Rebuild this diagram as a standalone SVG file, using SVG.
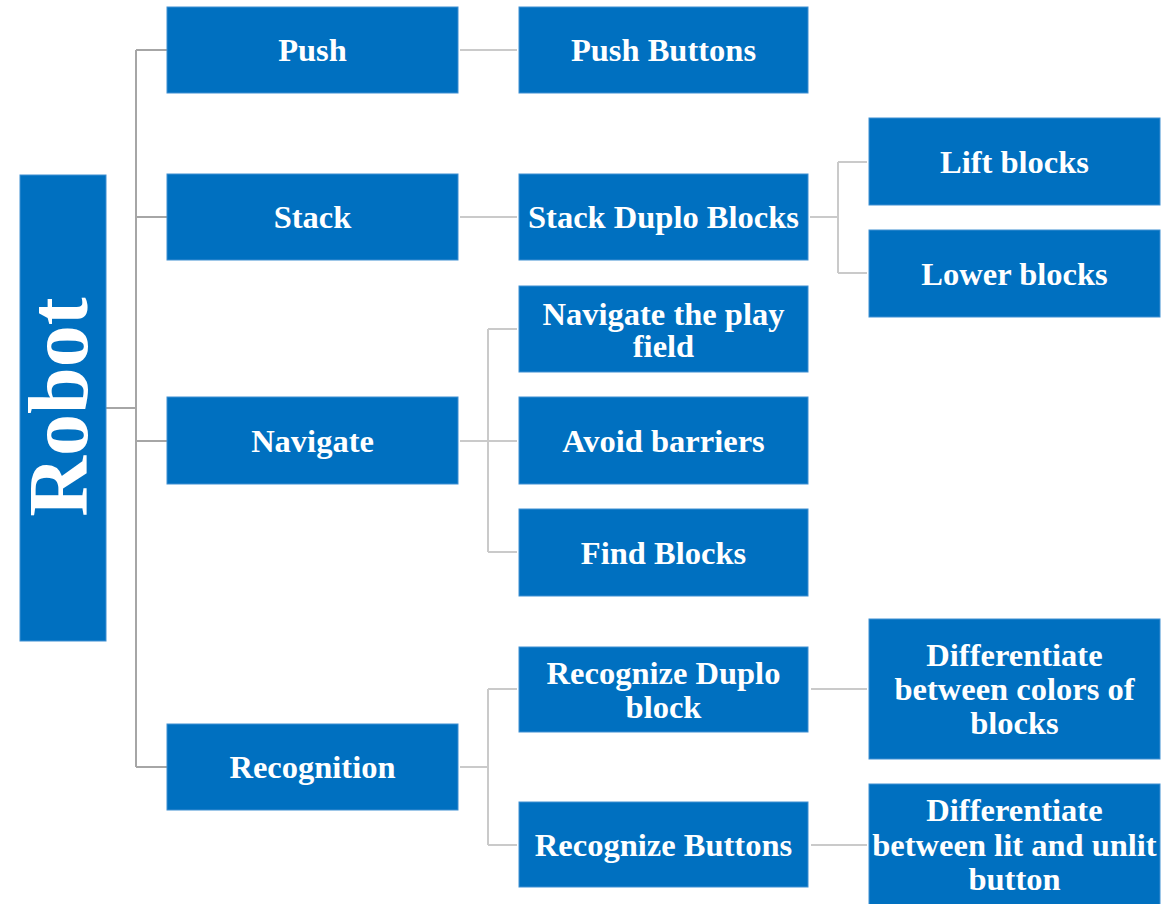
<svg xmlns="http://www.w3.org/2000/svg" width="1168" height="904" viewBox="0 0 1168 904">
<style>
.box{fill:#0070c0;stroke:#3f8fd2;stroke-width:1}
.t{font-family:"Liberation Serif","Times New Roman",serif;font-weight:bold;font-size:32.5px;fill:#ffffff;text-anchor:middle}
.trunk{stroke:#a6a6a6;stroke-width:2;fill:none}
.ln{stroke:#cacaca;stroke-width:2;fill:none}
</style>
<rect width="1168" height="904" fill="#ffffff"/>
<g id="connectors">
<path class="trunk" d="M106 408H136M136 50V767M136 50H167M136 217H167M136 441H167M136 767H167"/>
<path class="ln" d="M460 50H517M460 217H517"/>
<path class="ln" d="M810 217H838M838 162V273M838 162H867M838 273H867"/>
<path class="ln" d="M460 441H517M488 329V552M488 329H517M488 552H517"/>
<path class="ln" d="M460 767H488M488 689V845M488 689H517M488 845H517"/>
<path class="ln" d="M811 689H867M811 845H867"/>
</g>
<g id="robot"><rect class="box" x="20" y="175" width="86" height="466"/><text class="t" style="font-size:84px" transform="translate(87 407) rotate(-90)" x="0" y="0">Robot</text></g>
<g id="push"><rect class="box" x="167" y="7" width="291" height="86"/><text class="t" x="312.5" y="61">Push</text></g>
<g id="stack"><rect class="box" x="167" y="174" width="291" height="86"/><text class="t" x="312.5" y="228">Stack</text></g>
<g id="navigate"><rect class="box" x="167" y="397" width="291" height="87"/><text class="t" x="312.5" y="452">Navigate</text></g>
<g id="recognition"><rect class="box" x="167" y="724" width="291" height="86"/><text class="t" x="312.5" y="778">Recognition</text></g>
<g id="push-buttons"><rect class="box" x="519" y="7" width="289" height="86"/><text class="t" x="663.5" y="61">Push Buttons</text></g>
<g id="stack-duplo"><rect class="box" x="519" y="174" width="289" height="86"/><text class="t" x="663.5" y="228">Stack Duplo Blocks</text></g>
<g id="navigate-field"><rect class="box" x="519" y="286" width="289" height="86"/><text class="t" x="663.5" y="324.5">Navigate the play</text><text class="t" x="663.5" y="357">field</text></g>
<g id="avoid"><rect class="box" x="519" y="397" width="289" height="87"/><text class="t" x="663.5" y="452">Avoid barriers</text></g>
<g id="find"><rect class="box" x="519" y="509" width="289" height="87"/><text class="t" x="663.5" y="564">Find Blocks</text></g>
<g id="recognize-duplo"><rect class="box" x="519" y="647" width="289" height="85"/><text class="t" x="663.5" y="684">Recognize Duplo</text><text class="t" x="663.5" y="718">block</text></g>
<g id="recognize-buttons"><rect class="box" x="519" y="802" width="289" height="85"/><text class="t" x="663.5" y="856">Recognize Buttons</text></g>
<g id="lift"><rect class="box" x="869" y="118" width="291" height="87"/><text class="t" x="1014.5" y="173">Lift blocks</text></g>
<g id="lower"><rect class="box" x="869" y="230" width="291" height="87"/><text class="t" x="1014.5" y="285">Lower blocks</text></g>
<g id="diff-colors"><rect class="box" x="869" y="619" width="291" height="140"/><text class="t" x="1014.5" y="666">Differentiate</text><text class="t" x="1014.5" y="700">between colors of</text><text class="t" x="1014.5" y="734">blocks</text></g>
<g id="diff-lit"><rect class="box" x="869" y="784" width="291" height="130"/><text class="t" x="1014.5" y="821">Differentiate</text><text class="t" x="1014.5" y="856">between lit and unlit</text><text class="t" x="1014.5" y="890">button</text></g>
</svg>
